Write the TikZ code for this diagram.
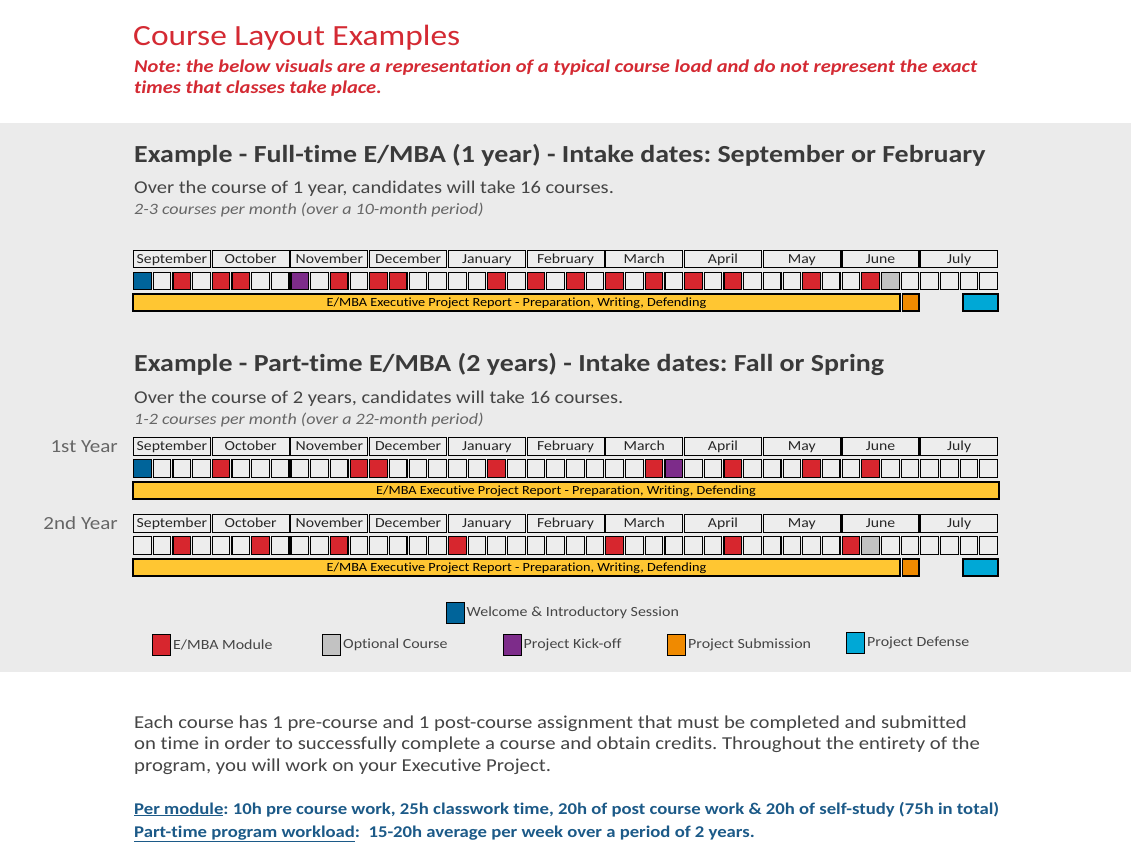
\documentclass[tikz,border=0pt]{standalone}
\usepackage{fontspec}
\setmainfont[FakeStretch=1.14,Ligatures=NoCommon]{Carlito}
\frenchspacing
\definecolor{bggrey}{HTML}{EBEBEB}
\definecolor{titlered}{HTML}{D42A33}
\definecolor{headgrey}{HTML}{3A3A3A}
\definecolor{textgrey}{HTML}{454545}
\definecolor{subgrey}{HTML}{666666}
\definecolor{linkblue}{HTML}{1C5A88}
\definecolor{cw}{HTML}{EDEDED}
\definecolor{cb}{HTML}{00649A}
\definecolor{cr}{HTML}{D7262E}
\definecolor{cp}{HTML}{7D2C8A}
\definecolor{cg}{HTML}{C2C2C2}
\definecolor{co}{HTML}{F08A00}
\definecolor{cc}{HTML}{00A8D6}
\definecolor{cy}{HTML}{FFC632}
\tikzset{
  monthbox/.style={draw=black,line width=1.1pt,fill=cw,minimum width=77pt,minimum height=17.5pt,inner sep=0pt,
    text height=8pt,text depth=0pt,font=\fontsize{13.8}{14}\selectfont,text=black!85},
  cellbox/.style={draw=black,line width=1.1pt,minimum width=17.6pt,minimum height=17.6pt,inner sep=0pt},
  barbox/.style={draw=black,line width=1.1pt,minimum height=17pt,inner sep=0pt,
    text height=7pt,text depth=0pt,font=\fontsize{12.5}{13}\selectfont},
  keybox/.style={draw=black,line width=1pt,minimum width=18pt,minimum height=21pt,inner sep=0pt},
  keytext/.style={anchor=west,inner sep=2pt,font=\fontsize{14}{15}\selectfont,text=textgrey},
  headline/.style={anchor=base west,inner sep=0pt,font=\fontsize{24.5}{26}\selectfont\bfseries,text=headgrey},
  bodyline/.style={anchor=base west,inner sep=0pt,font=\fontsize{18}{19}\selectfont,text=textgrey},
  subline/.style={anchor=base west,inner sep=0pt,font=\fontsize{15.8}{16}\selectfont\itshape,text=subgrey},
  yearlabel/.style={anchor=base east,inner sep=0pt,font=\fontsize{18.5}{19}\selectfont,text=subgrey},
}
% month boxes and week cells: #1 top, #2 name prefix, #3 cell colours
\newcommand{\timeline}[3]{%
  \foreach \m [count=\i from 0] in {September,October,November,December,January,February,March,April,May,June,July}
    \node[monthbox] (#2m\i) at ({133+\i*78.73+38.9},{#1+9}) {\m};
  \foreach \c [count=\k from 0] in {#3}
    \node[cellbox,fill=c\c] (#2c\k) at ({133+\k*19.68+9.4},{#1+31}) {};
}
\begin{document}
\begin{tikzpicture}[x=1pt,y=-1pt]
\useasboundingbox (0,0) rectangle (1131,863);
\fill[white] (0,0) rectangle (1131,863);
\fill[bggrey] (0,123) rectangle (1131,672);

\node[anchor=base west,inner sep=0pt,font=\fontsize{29.3}{30}\selectfont,text=titlered] (title) at (133,45) {Course Layout Examples};
\node[anchor=base west,inner sep=0pt,align=left,font=\fontsize{18}{21}\selectfont\bfseries\itshape,text=titlered] (note) at (134,93)
  {Note: the below visuals are a representation of a typical course load and do not represent the exact\\times that classes take place.};

% full-time
\node[headline] (head1) at (134,162) {Example - Full-time E/MBA (1 year) - Intake dates: September or February};
\node[bodyline] (over1) at (134,193) {Over the course of 1 year, candidates will take 16 courses.};
\node[subline] (sub1) at (134,214) {2-3 courses per month (over a 10-month period)};
\timeline{250}{a}{b,w,r,w, r,r,w,w, p,w,r,w, r,r,w,w, w,w,r,w, r,w,r,w, r,w,r,w, r,w,r,w, w,w,r,w, w,r,g,w, w,w,w,w}
\node[barbox,fill=cy,minimum width=767pt] (abar) at (516.5,302.5) {E/MBA Executive Project Report - Preparation, Writing, Defending};
\node[barbox,fill=co,minimum width=16.5pt] (asub) at (910.7,302.5) {};
\node[barbox,fill=cc,minimum width=35pt] (adef) at (980.5,302.5) {};

% part-time
\node[headline] (head2) at (134,371) {Example - Part-time E/MBA (2 years) - Intake dates: Fall or Spring};
\node[bodyline] (over2) at (134,403) {Over the course of 2 years, candidates will take 16 courses.};
\node[subline] (sub2) at (134,424) {1-2 courses per month (over a 22-month period)};
\node[yearlabel] (year1) at (118,452) {1st Year};
\timeline{437.5}{b}{b,w,w,w, r,w,w,w, w,w,w,r, r,w,w,w, w,w,r,w, w,w,w,w, w,w,r,p, w,w,r,w, w,w,r,w, w,r,w,w, w,w,w,w}
\node[barbox,fill=cy,minimum width=866pt] (bbar) at (566,490.5) {E/MBA Executive Project Report - Preparation, Writing, Defending};
\node[yearlabel] (year2) at (118,529) {2nd Year};
\timeline{514.5}{c}{w,w,r,w, w,w,r,w, w,w,r,w, w,w,w,w, r,w,w,w, w,w,w,w, r,w,w,w, w,w,r,w, w,w,w,w, r,g,w,w, w,w,w,w}
\node[barbox,fill=cy,minimum width=767pt] (cbar) at (516.5,567.5) {E/MBA Executive Project Report - Preparation, Writing, Defending};
\node[barbox,fill=co,minimum width=16.5pt] (csub) at (910.7,567.5) {};
\node[barbox,fill=cc,minimum width=35pt] (cdef) at (980.5,567.5) {};

% legend
\node[keybox,fill=cb] (kwel) at (455,613) {};
\node[keytext] at (kwel.east) {Welcome \& Introductory Session};
\node[keybox,fill=cr] (kmod) at (161.5,645) {};
\node[keytext] at (kmod.east) {E/MBA Module};
\node[keybox,fill=cg] (kopt) at (331.5,645) {};
\node[keytext] at (kopt.east) {Optional Course};
\node[keybox,fill=cp] (kkick) at (512,645) {};
\node[keytext] at (kkick.east) {Project Kick-off};
\node[keybox,fill=co] (ksub) at (676.5,645) {};
\node[keytext] at (ksub.east) {Project Submission};
\node[keybox,fill=cc] (kdef) at (855.5,643) {};
\node[keytext] at (kdef.east) {Project Defense};

% notes below
\node[anchor=base west,inner sep=0pt,align=left,font=\fontsize{18.2}{21.5}\selectfont,text=textgrey] (para) at (134,771)
  {Each course has 1 pre-course and 1 post-course assignment that must be completed and submitted\\
   on time in order to successfully complete a course and obtain credits. Throughout the entirety of the\\
   program, you will work on your Executive Project.};
\node[anchor=base west,inner sep=0pt,font=\fontsize{16.4}{17}\selectfont\bfseries,text=linkblue] (permod) at (134,814)
  {\underline{Per module}: 10h pre course work, 25h classwork time, 20h of post course work \& 20h of self-study (75h in total)};
\node[anchor=base west,inner sep=0pt,font=\fontsize{16.4}{17}\selectfont\bfseries,text=linkblue] (load) at (134,837)
  {\underline{Part-time program workload}:\ \ 15-20h average per week over a period of 2 years.};
\end{tikzpicture}
\end{document}
